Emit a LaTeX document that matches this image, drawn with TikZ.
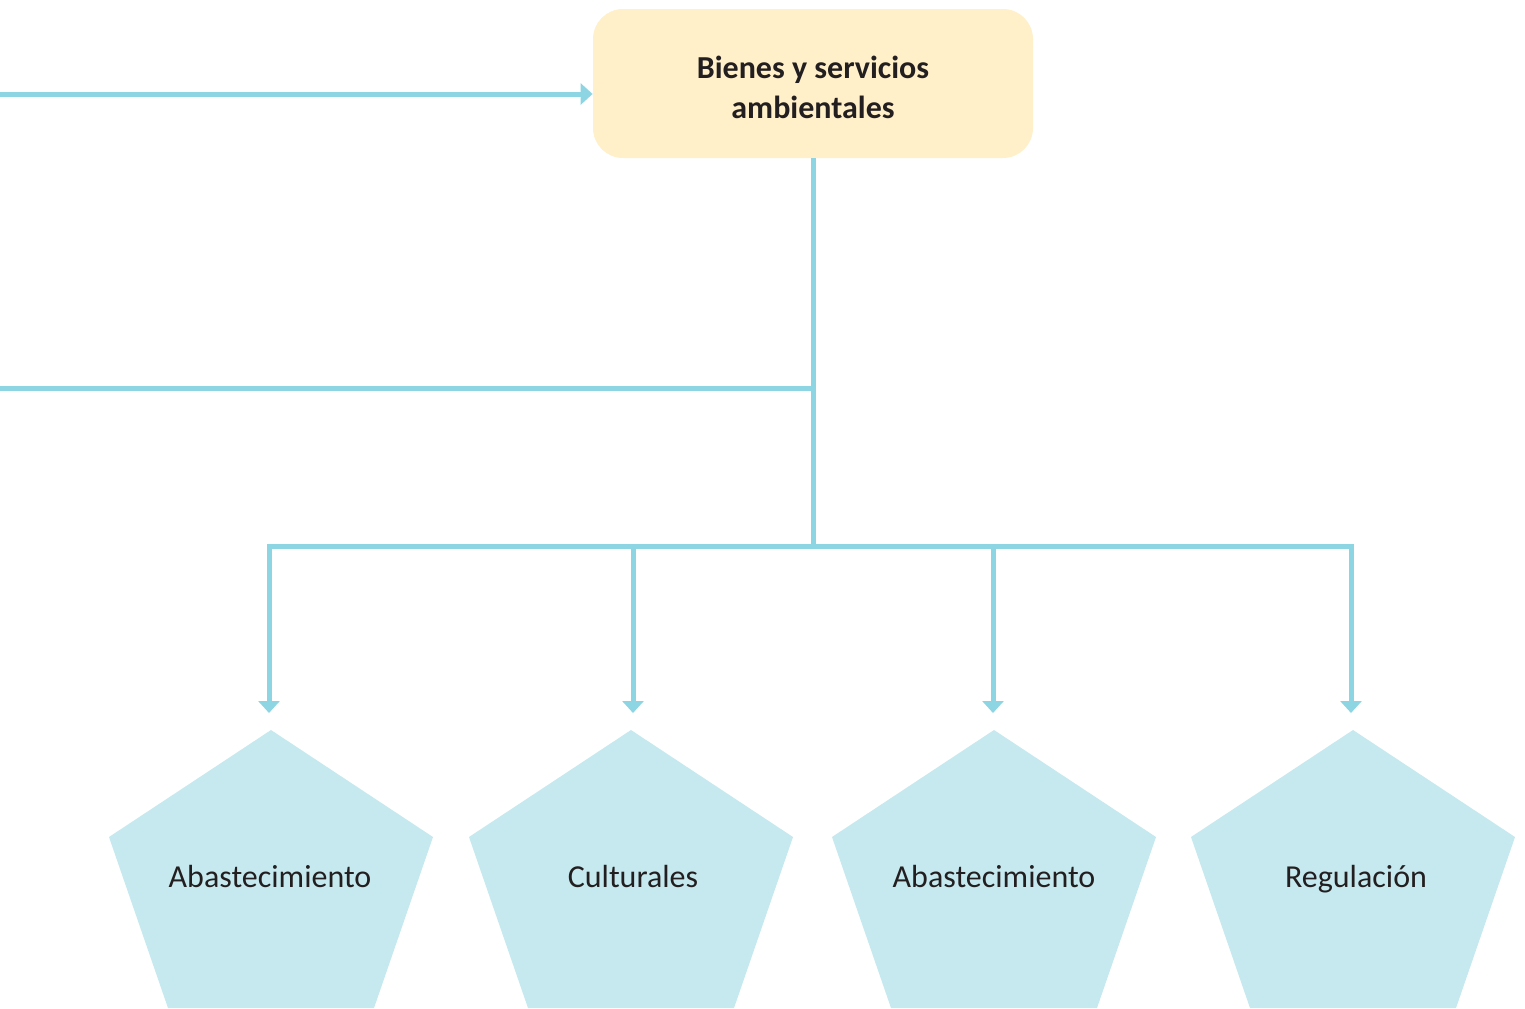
\documentclass[tikz,border=0pt]{standalone}
\usepackage{fontspec}
\setmainfont{Carlito}
\usetikzlibrary{arrows.meta}
\definecolor{linec}{HTML}{8DD5E2}
\definecolor{boxfill}{HTML}{FFF0C9}
\definecolor{pentfill}{HTML}{C5E9EE}
\definecolor{txt}{HTML}{231F20}
\begin{document}
\begin{tikzpicture}[x=0.5pt,y=-0.5pt,
  conn/.style={draw=linec, line width=2.5pt},
  tipped/.style={-{Triangle[width=10.5pt,length=6pt]}},
  topbox/.style={fill=boxfill, rounded corners=15pt, minimum width=220pt, minimum height=74.5pt, inner sep=0pt},
  toptext/.style={align=center, text=txt, inner sep=0pt, font=\bfseries\fontsize{16}{20}\selectfont},
  pentlabel/.style={text=txt, font=\fontsize{16}{19}\selectfont, inner sep=0pt, anchor=base},
  pentshape/.style={fill=pentfill}]
\useasboundingbox (0,0) rectangle (1525,1008);
% pentagons
\foreach \cx in {271,631,994,1353}{
  \fill[pentshape] (\cx,730) -- (\cx+162,837) -- (\cx+103,1008) -- (\cx-103,1008) -- (\cx-162,837) -- cycle;
}
\node[pentlabel] (p1) at (270,887) {Abastecimiento};
\node[pentlabel] (p2) at (633,887) {Culturales};
\node[pentlabel] (p3) at (994,887) {Abastecimiento};
\node[pentlabel] (p4) at (1356,887) {Regulación};
% top box
\node[topbox] (top) at (813,83.5) {};
\node[toptext] (toplabel) at (813,87) {Bienes y servicios\\ambientales};
% coordinates
\coordinate (inA) at (0,94);
\coordinate (inB) at (0,388);
\coordinate (j1) at (813,388);
\coordinate (j2) at (813,546);
\coordinate (t1) at (269,713);
\coordinate (t2) at (633,713);
\coordinate (t3) at (993,713);
\coordinate (t4) at (1351,713);
% connectors
\draw[conn,tipped] (inA) -- (top.west |- inA);
\draw[conn] (top.south) -- (j1);
\draw[conn] (inB) -- (j1) -- (j2);
\draw[conn,tipped] (j2) -| (t1);
\draw[conn,tipped] (j2) -| (t4);
\draw[conn,tipped] (j2 -| t2) -- (t2);
\draw[conn,tipped] (j2 -| t3) -- (t3);
\end{tikzpicture}
\end{document}
